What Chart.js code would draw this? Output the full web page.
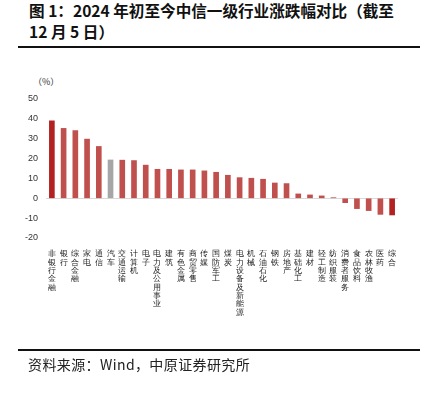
<!DOCTYPE html>
<html>
<head>
<meta charset="utf-8">
<script src="https://cdn.jsdelivr.net/npm/chart.js@4.4.1/dist/chart.umd.min.js"></script>
<style>
  html, body { margin: 0; padding: 0; background: #fff; }
  body { width: 437px; height: 394px; position: relative; overflow: hidden; font-family: "Noto Sans CJK SC", "Liberation Sans", sans-serif; }
  .title { position: absolute; left: 29px; top: 0px; width: 420px; font-size: 15.6px; font-weight: bold; line-height: 21px; color: #111; white-space: nowrap; }
  .rule { position: absolute; left: 18px; width: 402px; height: 2px; background: #111; }
  .unit { position: absolute; left: 33px; top: 75px; font-size: 9px; color: #333; }
  .src { position: absolute; left: 28px; top: 354px; font-size: 14px; letter-spacing: 0.4px; color: #222; }
  #wrap { position: absolute; left: 0; top: 60px; width: 437px; height: 290px; }
</style>
</head>
<body>
<div class="title">图 1：2024 年初至今中信一级行业涨跌幅对比（截至<br>12 月 5 日）</div>
<div class="rule" style="top:46px"></div>
<div class="unit">（%）</div>
<div id="wrap"><canvas id="industryChart"></canvas></div>
<div class="rule" style="top:349px"></div>
<div class="src">资料来源：Wind，中原证券研究所</div>
<script>
const industries = ['非银行金融', '银行', '综合金融', '家电', '通信', '汽车', '交通运输', '计算机', '电子', '电力及公用事业',
  '建筑', '有色金属', '商贸零售', '传媒', '国防军工', '煤炭', '电力设备及新能源', '机械', '石油石化', '钢铁',
  '房地产', '基础化工', '建材', '轻工制造', '纺织服装', '消费者服务', '食品饮料', '农林牧渔', '医药', '综合'];
const changePct = [39.0, 35.2, 34.1, 29.8, 26.1, 19.3, 19.2, 19.0, 16.7, 14.6,
  14.6, 14.3, 14.3, 13.8, 13.1, 11.6, 10.4, 10.1, 9.6, 7.7,
  7.4, 2.2, 1.7, 1.2, 0.3, -2.2, -5.2, -6.2, -8.1, -8.4];
const yTicks = [50, 40, 30, 20, 10, 0, -10, -20];

(function () {
  const ctx = document.getElementById('industryChart').getContext('2d');
  const last = industries.length - 1;
  const colors = industries.map(function (name, i) {
    if (name === '汽车') return '#a6a6a6';
    if (i === 0 || i === last) return '#b22222';
    return '#c0504d';
  });

  new Chart(ctx, {
    type: 'bar',
    data: {
      labels: industries.map(function (s) { return s.split(''); }),
      datasets: [{
        data: changePct,
        backgroundColor: colors,
        barThickness: 5
      }]
    },
    options: {
      responsive: true,
      maintainAspectRatio: false,
      animation: false,
      layout: { padding: { top: 39, right: 39, left: 0, bottom: 0 } },
      plugins: { legend: { display: false }, tooltip: { enabled: false } },
      scales: {
        y: {
          min: -20,
          max: 50,
          afterFit: function (s) { s.width = 46; },
          afterBuildTicks: function (s) { s.ticks = yTicks.map(function (v) { return { value: v }; }); },
          grid: {
            drawTicks: false,
            color: function (c) { return c.tick && c.tick.value === 0 ? '#d9d9d9' : 'rgba(0,0,0,0)'; }
          },
          border: { display: false },
          ticks: { color: '#333', font: { size: 9 }, padding: 8 }
        },
        x: {
          afterFit: function (s) { s.height = 112; },
          grid: { display: false },
          border: { display: false },
          ticks: {
            color: '#222',
            autoSkip: false,
            maxRotation: 0,
            minRotation: 0,
            padding: 4,
            font: { size: 8.3, lineHeight: 1.0 }
          }
        }
      }
    }
  });
})();
</script>
</body>
</html>
